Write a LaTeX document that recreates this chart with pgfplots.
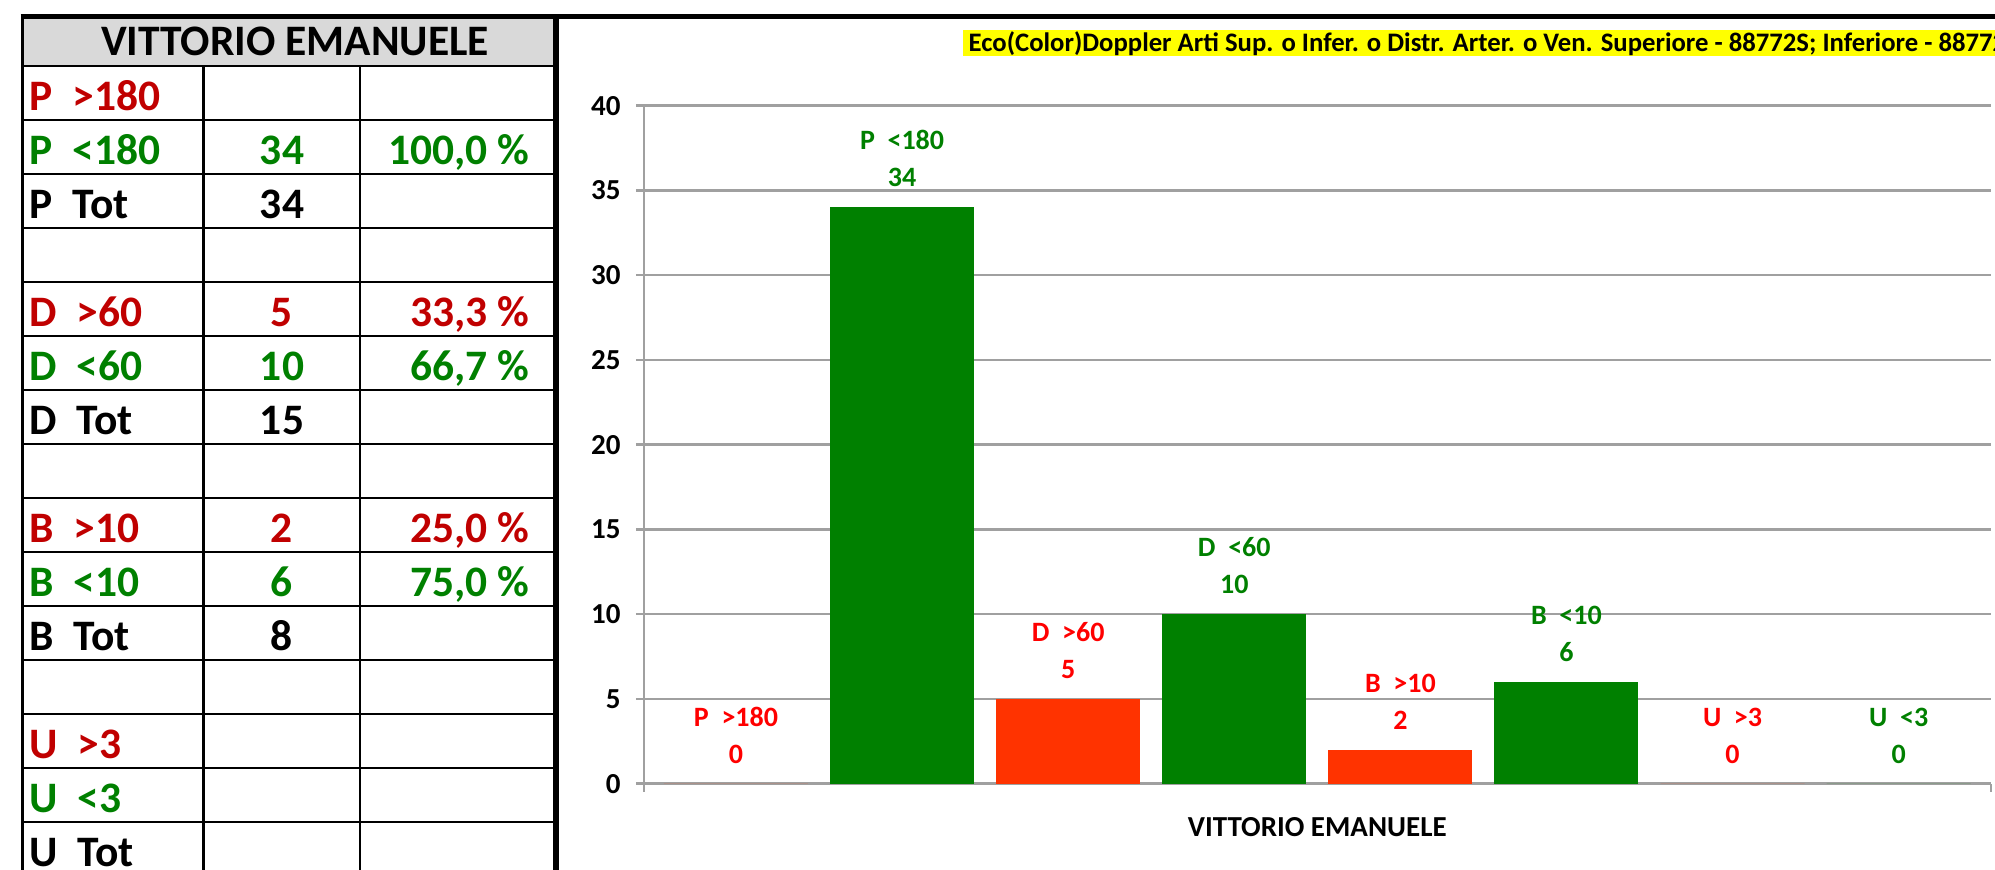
\documentclass[border=0pt]{standalone}
\usepackage{fontspec}
\setmainfont{Carlito}
\usepackage{pgfplots}
\pgfplotsset{compat=1.18}
\definecolor{tred}{HTML}{C00000}
\definecolor{tgreen}{HTML}{008000}
\definecolor{bred}{HTML}{FF3300}
\definecolor{lred}{HTML}{FF0000}
\definecolor{gridgray}{HTML}{A0A0A0}
\definecolor{hdrgray}{HTML}{D9D9D9}
\definecolor{ttlyellow}{HTML}{FFFF00}
\newcommand{\trow}[5]{%
  \node[anchor=base west, text=#2] at (29,{66.2+54*#1-10}) {#3};
  \node[anchor=base, text=#2] at (282,{66.2+54*#1-10}) {#4};
  \node[anchor=base east, text=#2] at (530,{66.2+54*#1-10}) {#5};}
\begin{document}
\begin{tikzpicture}
\useasboundingbox (0,0) rectangle (199.5mm,-86.9mm);
\clip (0,0) rectangle (199.5mm,-86.9mm);
\begin{scope}[x=0.1mm,y=-0.1mm,every node/.style={inner sep=0pt,font=\fontsize{4.35mm}{5mm}\bfseries}]
\fill[hdrgray] (22,16.5) rectangle (556,66.2);
\fill[ttlyellow] (963,30.5) rectangle (2100,56);
\node[anchor=west, font=\fontsize{2.67mm}{3mm}\bfseries] at (968,43.5) {Eco(Color)Doppler Arti Sup. o Infer. o Distr. Arter. o Ven. Superiore - 88772S; Inferiore - 88772I};
\foreach \i in {0,...,15} \draw[line width=0.25mm] (22,{66.2+54*\i}) -- (556,{66.2+54*\i});
\draw[line width=0.25mm] (203.6,66.2) -- (203.6,900);
\draw[line width=0.25mm] (360,66.2) -- (360,900);
\draw[line width=0.3mm] (22,16.5) -- (22,900);
\draw[line width=0.45mm] (20.5,16.5) -- (2100,16.5);
\draw[line width=0.55mm] (556,16.5) -- (556,900);
\node[anchor=base] at (295,56) {VITTORIO EMANUELE};
\trow{1}{tred}{P~~>180}{}{}
\trow{2}{tgreen}{P~~<180}{34}{100,0 \%}
\trow{3}{black}{P~~Tot}{34}{}
\trow{5}{tred}{D~~>60}{5}{33,3 \%}
\trow{6}{tgreen}{D~~<60}{10}{66,7 \%}
\trow{7}{black}{D~~Tot}{15}{}
\trow{9}{tred}{B~~>10}{2}{25,0 \%}
\trow{10}{tgreen}{B~~<10}{6}{75,0 \%}
\trow{11}{black}{B~~Tot}{8}{}
\trow{13}{tred}{U~~>3}{}{}
\trow{14}{tgreen}{U~~<3}{}{}
\trow{15}{black}{U~~Tot}{}{}
\end{scope}
\begin{axis}[
  at={(64.38mm,-78.37mm)}, anchor=south west,
  scale only axis, width=134.7mm, height=67.8mm,
  xmin=-0.555, xmax=7.555, ymin=0, ymax=40,
  ytick={0,5,...,40},
  xtick={-0.555,7.555}, xticklabels={},
  axis x line*=bottom, axis y line*=left,
  axis line style={draw=gridgray, line width=0.25mm, -},
  ymajorgrids, grid style={draw=gridgray, line width=0.25mm},
  tick style={draw=gridgray, line width=0.25mm},
  tick align=outside, major tick length=0.8mm,
  /pgf/number format/assume math mode=true,
  yticklabel style={font=\fontsize{2.9mm}{3.2mm}\bfseries, anchor=east, inner sep=0pt, xshift=-1.45mm},
  xlabel={VITTORIO EMANUELE},
  xlabel style={font=\fontsize{2.9mm}{3.4mm}\bfseries, at={(axis description cs:0.5,0)}, anchor=base, yshift=-5.3mm},
  every node near coord/.append style={font=\fontsize{2.8mm}{3.7mm}\bfseries, align=center, anchor=south, inner sep=0pt, yshift=1.96mm},
  clip=false,
]
\addplot[ybar, bar width=0.867, bar shift=0pt, fill=bred, draw=none, nodes near coords={P~~>180\\\pgfmathprintnumber{\pgfplotspointmeta}}, every node near coord/.append style={text=lred}] coordinates {(0,0)};
\addplot[ybar, bar width=0.867, bar shift=0pt, fill=tgreen, draw=none, nodes near coords={P~~<180\\\pgfmathprintnumber{\pgfplotspointmeta}}, every node near coord/.append style={text=tgreen}] coordinates {(1,34)};
\addplot[ybar, bar width=0.867, bar shift=0pt, fill=bred, draw=none, nodes near coords={D~~>60\\\pgfmathprintnumber{\pgfplotspointmeta}}, every node near coord/.append style={text=lred}] coordinates {(2,5)};
\addplot[ybar, bar width=0.867, bar shift=0pt, fill=tgreen, draw=none, nodes near coords={D~~<60\\\pgfmathprintnumber{\pgfplotspointmeta}}, every node near coord/.append style={text=tgreen}] coordinates {(3,10)};
\addplot[ybar, bar width=0.867, bar shift=0pt, fill=bred, draw=none, nodes near coords={B~~>10\\\pgfmathprintnumber{\pgfplotspointmeta}}, every node near coord/.append style={text=lred}] coordinates {(4,2)};
\addplot[ybar, bar width=0.867, bar shift=0pt, fill=tgreen, draw=none, nodes near coords={B~~<10\\\pgfmathprintnumber{\pgfplotspointmeta}}, every node near coord/.append style={text=tgreen}] coordinates {(5,6)};
\addplot[ybar, bar width=0.867, bar shift=0pt, fill=bred, draw=none, nodes near coords={U~~>3\\\pgfmathprintnumber{\pgfplotspointmeta}}, every node near coord/.append style={text=lred}] coordinates {(6,0)};
\addplot[ybar, bar width=0.867, bar shift=0pt, fill=tgreen, draw=none, nodes near coords={U~~<3\\\pgfmathprintnumber{\pgfplotspointmeta}}, every node near coord/.append style={text=tgreen}] coordinates {(7,0)};
\end{axis}
\end{tikzpicture}
\end{document}
